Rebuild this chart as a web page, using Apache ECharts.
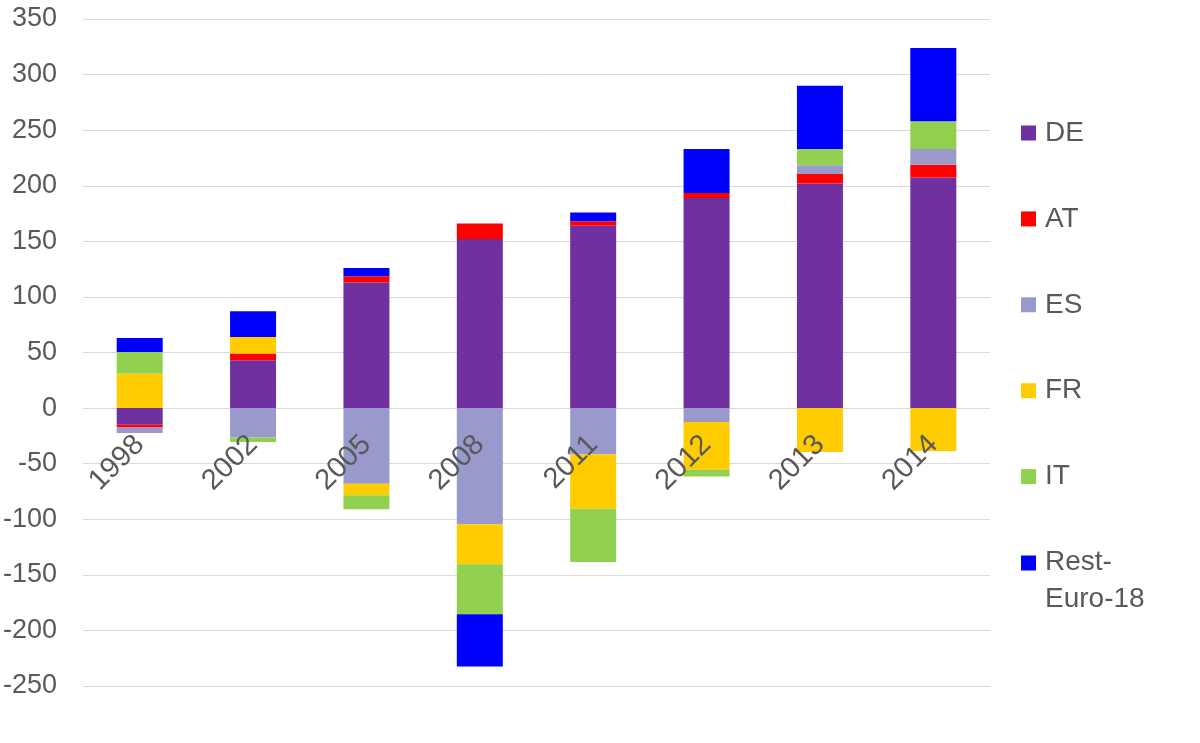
<!DOCTYPE html>
<html>
<head>
<meta charset="utf-8">
<script src="https://cdn.jsdelivr.net/npm/echarts@6/dist/echarts.min.js"></script>
<style>html,body{margin:0;padding:0;background:#fff;}#c{width:1200px;height:743px;}</style>
</head>
<body>
<div id="c"></div>
<script>
const categories = ['1998','2002','2005','2008','2011','2012','2013','2014'];
const DE   = [-15, 43, 113, 152, 164, 189, 202, 207.5];
const AT   = [-2.5, 6, 5.5, 14, 4, 4.5, 8.5, 11.5];
const ES   = [-5, -26.5, -68, -104.5, -41.5, -12.5, 8, 14];
const FR   = [31, 15, -10.5, -36, -49, -43, -39.5, -38.5];
const IT   = [19.5, -4, -12.5, -45, -48, -6, 14.5, 25];
const REST = [12.5, 23, 7.5, -47, 8, 39.5, 57, 66];
const yTicks = [-250,-200,-150,-100,-50,0,50,100,150,200,250,300,350];

const FONT = 'Liberation Sans, Arial, sans-serif';
const GREY = '#595959';
const seriesDefs = [
  {name:'DE', data:DE, color:'#7030A0'},
  {name:'AT', data:AT, color:'#FF0000'},
  {name:'ES', data:ES, color:'#9999CC'},
  {name:'FR', data:FR, color:'#FFCC00'},
  {name:'IT', data:IT, color:'#92D050'},
  {name:'Rest-Euro-18', data:REST, color:'#0000FF'}
];

const W = 1200, H = 743;
const GRID = {left:83, right:210, top:19, bottom:57};
const yMin = yTicks[0], yMax = yTicks[yTicks.length-1];
const plotH = H - GRID.top - GRID.bottom;
// move the category axis up to the zero line
const zeroOffset = -plotH * (0 - yMin) / (yMax - yMin);

const chart = echarts.init(document.getElementById('c'), null, {renderer:'canvas'});
chart.setOption({
  animation:false,
  textStyle:{fontFamily:FONT},
  grid:Object.assign({containLabel:false, outerBoundsMode:'none'}, GRID),
  legend:{
    orient:'vertical', left:1021, top:118, padding:0,
    itemWidth:15, itemHeight:15, itemGap:55.9,
    icon:'rect',
    textStyle:{
      fontSize:28, color:GREY, fontFamily:FONT, lineHeight:30, padding:[0,0,0,4],
      rich:{
        a:{fontSize:28, color:GREY, fontFamily:FONT, lineHeight:30},
        b:{fontSize:28, color:GREY, fontFamily:FONT, lineHeight:1, height:44, verticalAlign:'top'}
      }
    },
    formatter: function(name){
      if (name === 'Rest-Euro-18') return '{a|Rest-}\n{b|Euro-18}';
      return name;
    },
    data: seriesDefs.map(s=>s.name)
  },
  xAxis:{
    type:'category', data:categories, z:10,
    offset: zeroOffset,
    axisLine:{show:false, onZero:false},
    axisTick:{show:false},
    axisLabel:{rotate:45, fontSize:29, color:GREY, margin:32, interval:0}
  },
  yAxis:{
    type:'value', min:yMin, max:yMax, interval:50,
    axisLine:{show:false}, axisTick:{show:false},
    splitLine:{lineStyle:{color:'#D9D9D9', width:1}},
    axisLabel:{fontSize:27, color:GREY, margin:26}
  },
  series: seriesDefs.map(s=>({
    name:s.name, type:'bar', stack:'total', data:s.data,
    barWidth:46, itemStyle:{color:s.color}
  }))
});
</script>
</body>
</html>
